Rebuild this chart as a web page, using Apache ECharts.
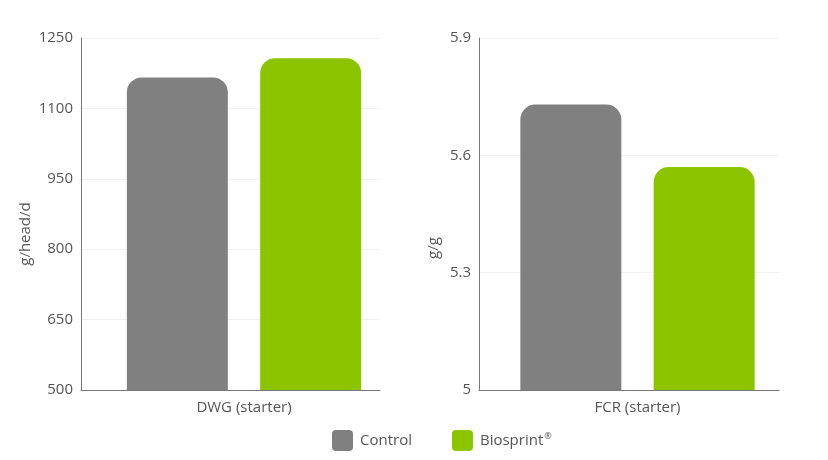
<!DOCTYPE html>
<html>
<head>
<meta charset="utf-8">
<script src="https://cdn.jsdelivr.net/npm/echarts@6/dist/echarts.min.js"></script>
<style>
  html, body { margin: 0; padding: 0; background: #fff; }
  #chart { width: 828px; height: 460px; }
</style>
</head>
<body>
<div id="chart"></div>
<script>
// two panels: daily weight gain and feed conversion, control vs Biosprint
const panelNames = ['DWG (starter)', 'FCR (starter)'];
const axisTitles = ['g/head/d', 'g/g'];
const controlValues = [1166, 5.73];
const biosprintValues = [1207, 5.57];
const yMins = [500, 5];
const yMaxs = [1250, 5.9];
const yIntervals = [150, 0.3];

const FONT = '"Open Sans", "DejaVu Sans", sans-serif';
const GRAY = '#808080';
const GREEN = '#8cc500';
const TEXT = '#555';

// frame grid (axis lines, split lines) and bar grid per panel
const frames = [
  { left: 81, width: 299, barWidth: 326, titlePad: 40 },
  { left: 479, width: 300, barWidth: 317, titlePad: 68 },
];

const chart = echarts.init(document.getElementById('chart'));

const grids = [];
const xAxes = [];
const yAxes = [];
const series = [];

frames.forEach((f, i) => {
  grids.push({ left: f.left, top: 38, width: f.width, height: 352 });
  grids.push({ left: f.left, top: 38, width: f.barWidth, height: 352 });
  const frameIdx = i * 2;
  const barIdx = i * 2 + 1;

  xAxes.push({
    gridIndex: frameIdx,
    type: 'category',
    data: [''],
    axisLine: { lineStyle: { color: '#777', width: 1 } },
    axisTick: { show: false },
    axisLabel: { show: false },
  });
  xAxes.push({
    gridIndex: barIdx,
    type: 'category',
    data: [panelNames[i]],
    axisLine: { show: false },
    axisTick: { show: false },
    axisLabel: { color: TEXT, fontSize: 15, fontFamily: FONT, margin: 10 },
  });

  yAxes.push({
    gridIndex: frameIdx,
    type: 'value',
    min: yMins[i],
    max: yMaxs[i],
    interval: yIntervals[i],
    name: axisTitles[i],
    nameLocation: 'middle',
    nameGap: i === 0 ? 48 : 38,
    nameTextStyle: { color: TEXT, fontSize: 15, fontFamily: FONT, padding: [0, f.titlePad, 0, 0] },
    axisLine: { show: true, lineStyle: { color: '#777', width: 1 } },
    axisTick: { show: false },
    axisLabel: {
      color: TEXT,
      fontSize: 15,
      fontFamily: FONT,
      margin: 8,
      formatter: v => String(Math.round(v * 10) / 10),
    },
    splitLine: { lineStyle: { color: '#f1f1f1', width: 1 } },
  });
  yAxes.push({
    gridIndex: barIdx,
    type: 'value',
    min: yMins[i],
    max: yMaxs[i],
    interval: yIntervals[i],
    show: false,
    splitLine: { show: false },
  });

  series.push({
    name: 'Control',
    type: 'bar',
    xAxisIndex: barIdx,
    yAxisIndex: barIdx,
    data: [controlValues[i]],
    barWidth: 101,
    barGap: '32%',
    itemStyle: { color: GRAY, borderRadius: [15, 15, 0, 0] },
  });
  series.push({
    name: 'Biosprint®',
    type: 'bar',
    xAxisIndex: barIdx,
    yAxisIndex: barIdx,
    data: [biosprintValues[i]],
    barWidth: 101,
    barGap: '32%',
    itemStyle: { color: GREEN, borderRadius: [15, 15, 0, 0] },
  });
});

chart.setOption({
  animation: false,
  legend: {
    left: 327,
    top: 425,
    itemWidth: 21,
    itemHeight: 21,
    itemGap: 40,
    icon: 'path://M4,0 L17,0 Q21,0 21,4 L21,17 Q21,21 17,21 L4,21 Q0,21 0,17 L0,4 Q0,0 4,0 Z',
    // ® drawn as a small superscript like the original
    formatter: name => name.replace('®', '{sup|®}'),
    textStyle: {
      color: TEXT,
      fontSize: 15,
      fontFamily: FONT,
      padding: [0, 0, 0, 2],
      rich: {
        sup: { fontSize: 9, color: TEXT, fontFamily: FONT, verticalAlign: 'top', padding: [0, 0, 8, 1] },
      },
    },
    data: ['Control', 'Biosprint®'],
  },
  grid: grids,
  xAxis: xAxes,
  yAxis: yAxes,
  series,
});
</script>
</body>
</html>
